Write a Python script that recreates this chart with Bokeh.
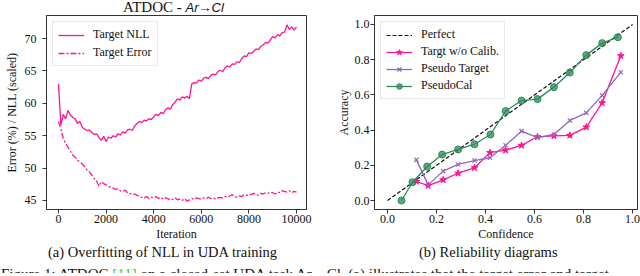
from bokeh.plotting import figure
from bokeh.layouts import row, column
from bokeh.models import FixedTicker, Legend, LegendItem, Range1d, PrintfTickFormatter, Div
from bokeh.embed import file_html
from bokeh.resources import INLINE

# ---------------- data: (a) overfitting of NLL ----------------
iterations = list(range(0, 10001, 100))
target_nll = [63.0, 56.6, 58.3, 57.6, 58.9, 58.2, 57.8, 57.6, 56.9, 57.2,
              56.3, 56.0, 55.8, 55.9, 55.5, 55.2, 55.3, 54.7, 54.3, 54.9,
              54.1, 54.8, 54.6, 55.0, 54.8, 55.3, 55.1, 55.6, 55.4, 55.9,
              56.0, 55.8, 56.5, 56.9, 57.2, 57.0, 57.4, 57.3, 57.6, 57.5,
              57.9, 58.3, 58.1, 58.6, 58.4, 59.0, 59.3, 59.1, 59.8, 60.2,
              60.7, 60.5, 61.0, 60.8, 61.1, 60.7, 63.0, 63.2, 63.1, 63.6,
              63.4, 63.9, 64.0, 63.8, 64.3, 64.5, 64.4, 64.9, 65.1, 64.9,
              65.5, 65.8, 65.6, 66.1, 66.0, 66.4, 66.3, 66.9, 67.3, 67.2,
              67.8, 67.7, 68.0, 68.4, 68.3, 68.8, 69.0, 69.4, 69.3, 69.8,
              70.3, 70.1, 70.6, 70.4, 70.9, 71.0, 72.1, 71.4, 71.8, 71.3, 71.8]
target_error = [57.2, 56.0, 54.6, 53.8, 53.2, 52.6, 52.0, 51.7, 51.2, 51.0,
                50.6, 50.2, 49.7, 49.4, 48.9, 48.4, 48.0, 47.2, 47.9, 47.6,
                47.4, 47.2, 47.0, 46.9, 46.7, 46.8, 46.5, 46.4, 46.6, 46.2,
                46.1, 45.9, 46.0, 45.8, 45.7, 45.5, 45.4, 45.6, 45.3, 45.5,
                45.4, 45.6, 45.3, 45.5, 45.2, 45.4, 45.3, 45.0, 45.2, 45.4,
                45.1, 45.2, 45.0, 45.3, 44.9, 45.1, 45.3, 45.2, 45.4, 45.3,
                45.2, 45.4, 45.3, 45.5, 45.3, 45.4, 45.2, 45.4, 45.5, 45.4,
                45.6, 45.5, 45.7, 45.9, 45.6, 45.5, 45.7, 45.6, 45.9, 45.8,
                46.0, 45.9, 46.1, 46.0, 45.8, 46.1, 46.0, 46.2, 46.1, 46.3,
                46.2, 46.0, 46.3, 46.2, 46.5, 46.4, 46.3, 46.5, 46.2, 46.4, 46.3]
iter_ticks = [0, 2000, 4000, 6000, 8000, 10000]
iter_tick_labels = ["0", "2000", "4000", "6000", "8000", "10000"]
err_ticks = [45, 50, 55, 60, 65, 70]
err_tick_labels = ["45", "50", "55", "60", "65", "70"]

# ---------------- data: (b) reliability diagrams ----------------
perfect_conf = [0.0, 1.0]
perfect_acc = [0.0, 1.0]
conf_bins = [0.118, 0.166, 0.227, 0.288, 0.355, 0.418, 0.482, 0.547, 0.612, 0.679, 0.744, 0.811, 0.876, 0.952]
acc_uncalib = [0.108, 0.085, 0.117, 0.155, 0.186, 0.272, 0.286, 0.313, 0.362, 0.367, 0.370, 0.417, 0.555, 0.822]
acc_pseudo_target = [0.231, 0.089, 0.167, 0.205, 0.227, 0.243, 0.314, 0.394, 0.357, 0.375, 0.455, 0.498, 0.597, 0.729]
conf_pseudocal = [0.057, 0.102, 0.162, 0.223, 0.288, 0.355, 0.420, 0.482, 0.547, 0.612, 0.679, 0.744, 0.811, 0.876, 0.940]
acc_pseudocal = [0.0, 0.104, 0.193, 0.261, 0.290, 0.320, 0.375, 0.508, 0.568, 0.576, 0.644, 0.727, 0.826, 0.894, 0.928]
rel_ticks = [0.0, 0.2, 0.4, 0.6, 0.8, 1.0]

# ---------------- texts ----------------
title_plain = "ATDOC - "
title_italic = "Ar\u2192Cl"
caption_a = "(a) Overfitting of NLL in UDA training"
caption_b = "(b) Reliability diagrams"
sentence_pre = "Figure 1: ATDOC "
sentence_ref = "[11]"
sentence_post = " on a closed-set UDA task Ar\u2192Cl. (a) illustrates that the target error and target"

# ---------------- style ----------------
FONT = "Liberation Serif"
PINK = "#ff1493"
PURPLE = "#9467bd"
GREEN = "#2e8b57"
W = 320
FIG_H = 229
TOP, BOTTOM = 1, 34
TITLE_H, CAP_H, SENT_H = 14, 18, 15


def style(p, y_standoff):
    p.grid.visible = False
    p.outline_line_color = "#333333"
    p.outline_line_width = 1
    p.outline_line_alpha = 1
    p.background_fill_color = "white"
    p.border_fill_color = "white"
    for ax in p.axis:
        ax.axis_line_color = "#333333"
        ax.major_tick_line_color = "#333333"
        ax.major_tick_in = 0
        ax.major_tick_out = 4
        ax.minor_tick_line_color = None
        ax.major_label_text_font = FONT
        ax.major_label_text_font_size = "12px"
        ax.major_label_text_color = "#111111"
        ax.major_label_standoff = 1
        ax.axis_label_text_font = FONT
        ax.axis_label_text_font_size = "12px"
        ax.axis_label_text_font_style = "normal"
        ax.axis_label_text_color = "#111111"
        ax.axis_label_standoff = 1
    p.yaxis.major_label_standoff = y_standoff
    p.yaxis.axis_label_standoff = 3


def style_legend(lg):
    lg.label_text_font = FONT
    lg.label_text_font_size = "12px"
    lg.label_text_color = "#111111"
    lg.glyph_width = 26
    lg.glyph_height = 14
    lg.label_height = 14
    lg.spacing = 3
    lg.padding = 5
    lg.margin = 6
    lg.label_standoff = 9
    lg.border_line_color = "#d4d4d4"
    lg.border_line_width = 1
    lg.background_fill_alpha = 0.85


# ---------------- (a) ----------------
p1 = figure(width=W, height=FIG_H, output_backend="svg", toolbar_location=None, title=None,
            x_range=Range1d(-504, 10420), y_range=Range1d(43.61, 73.55),
            min_border_left=46, min_border_right=14, min_border_top=TOP, min_border_bottom=BOTTOM)
style(p1, 6)
p1.xaxis.ticker = FixedTicker(ticks=iter_ticks)
p1.xaxis.major_label_overrides = dict(zip(iter_ticks, iter_tick_labels))
p1.yaxis.ticker = FixedTicker(ticks=err_ticks)
p1.yaxis.major_label_overrides = dict(zip(err_ticks, err_tick_labels))
p1.xaxis.axis_label = "Iteration"
p1.yaxis.axis_label = "Error (%) / NLL (scaled)"

r_nll = p1.line(iterations, target_nll, line_color=PINK, line_width=1.3)
r_err = p1.line(iterations, target_error, line_color=PINK, line_width=1.3, line_dash="6 2 2 2")
lg1 = Legend(items=[LegendItem(label="Target NLL", renderers=[r_nll]),
                    LegendItem(label="Target Error", renderers=[r_err])],
             location="top_left")
style_legend(lg1)
p1.add_layout(lg1)

# ---------------- (b) ----------------
p2 = figure(width=W, height=FIG_H, output_backend="svg", toolbar_location=None, title=None,
            x_range=Range1d(-0.053, 1.020), y_range=Range1d(-0.051, 1.051),
            min_border_left=54, min_border_right=3, min_border_top=TOP, min_border_bottom=BOTTOM)
style(p2, 1)
p2.yaxis.axis_label_standoff = 1
p2.xaxis.ticker = FixedTicker(ticks=rel_ticks)
p2.yaxis.ticker = FixedTicker(ticks=rel_ticks)
p2.xaxis.formatter = PrintfTickFormatter(format="%.1f")
p2.yaxis.formatter = PrintfTickFormatter(format="%.1f")
p2.xaxis.axis_label = "Confidence"
p2.yaxis.axis_label = "Accuracy"

r_perf = p2.line(perfect_conf, perfect_acc, line_color="#111111", line_width=1.2, line_dash="4 2")
r_unc_l = p2.line(conf_bins, acc_uncalib, line_color=PINK, line_width=1.3)
r_unc_m = p2.scatter(conf_bins, acc_uncalib, marker="star", size=7, fill_color=PINK, line_color=PINK)
r_pt_l = p2.line(conf_bins, acc_pseudo_target, line_color=PURPLE, line_width=1.3)
r_pt_m = p2.scatter(conf_bins, acc_pseudo_target, marker="x", size=6, line_color=PURPLE, line_width=1.2)
r_pc_l = p2.line(conf_pseudocal, acc_pseudocal, line_color=GREEN, line_width=1.3)
r_pc_m = p2.scatter(conf_pseudocal, acc_pseudocal, marker="circle", size=7, fill_color=GREEN,
                    fill_alpha=0.75, line_color=GREEN)
lg2 = Legend(items=[LegendItem(label="Perfect", renderers=[r_perf]),
                    LegendItem(label="Targt w/o Calib.", renderers=[r_unc_l, r_unc_m]),
                    LegendItem(label="Pseudo Target", renderers=[r_pt_l, r_pt_m]),
                    LegendItem(label="PseudoCal", renderers=[r_pc_l, r_pc_m])],
             location="top_left")
style_legend(lg2)
lg2.spacing = 2
p2.add_layout(lg2)

# ---------------- surrounding texts ----------------
base = f"font-family:'{FONT}';color:#111111;white-space:nowrap;margin:0;padding-top:0;"
title_div = Div(
    text=(f'<div style="{base}font-size:15px;line-height:14px;padding-left:123px;">{title_plain}'
          f'<i style="font-family:\'Liberation Sans\';font-size:13px;">{title_italic}</i></div>'),
    width=640, height=TITLE_H, margin=0)
cap_a = Div(text=f'<div style="{base}font-size:14.5px;line-height:{CAP_H}px;padding-left:48px;">{caption_a}</div>',
            width=W, height=CAP_H, margin=0)
cap_b = Div(text=f'<div style="{base}font-size:14.5px;line-height:{CAP_H}px;padding-left:99px;">{caption_b}</div>',
            width=W, height=CAP_H, margin=0)
sentence = Div(
    text=(f'<div style="font-family:\'{FONT}\';color:#111111;white-space:nowrap;margin:0;'
          f'font-size:15px;line-height:17px;height:{SENT_H - 4}px;overflow:hidden;padding:4px 0 0 1px;">'
          f'{sentence_pre}<span style="color:#33cc33;">{sentence_ref}</span>{sentence_post}</div>'),
    width=640, height=SENT_H, margin=0, styles={"overflow": "hidden"})

layout = column(title_div, row(p1, p2, spacing=0), row(cap_a, cap_b, spacing=0), sentence, spacing=0)
open("out.html", "w").write(file_html(layout, INLINE))
